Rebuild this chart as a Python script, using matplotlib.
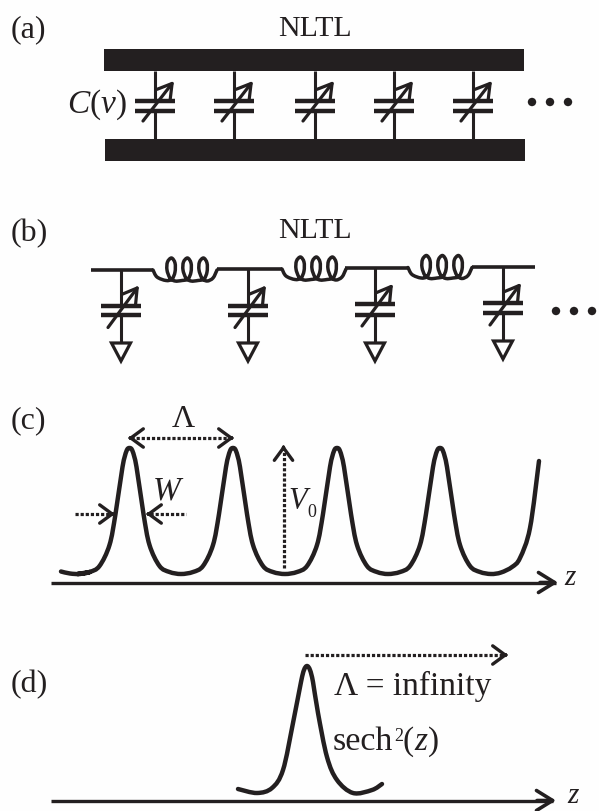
import numpy as np
import matplotlib
matplotlib.use("Agg")
import matplotlib.pyplot as plt
from matplotlib.path import Path
from matplotlib.patches import PathPatch, Rectangle, Polygon, Circle

plt.rcParams['font.family'] = ['Liberation Serif', 'DejaVu Serif']
plt.rcParams['mathtext.fontset'] = 'custom'
plt.rcParams['mathtext.rm'] = 'Liberation Serif'
plt.rcParams['mathtext.it'] = 'Liberation Serif:italic'
plt.rcParams['mathtext.default'] = 'regular'

INK = '#231f20'
TXT = '#231f20'

# Panel (a)
A_CAP_X = [155, 234, 315, 394, 473]
A_PLATES = [100.5, 111]
# Panel (b)
B_CAP_X = [121, 248, 375, 503]
B_PLATE_TOP = [305.5, 305.5, 304, 303]
B_PLATE_BOT = [315, 315, 315, 313]
B_TRI_TOP = [343, 343, 343, 341]
B_WIRE_START = [91, 217, 345, 472]
B_WIRE_END = [153, 282, 408, 535]
B_WIRE_Y = [270, 269, 267.5, 266.5]
# Panel (c) pulse train
PEAK_X = [129.5, 233, 337, 440]
PULSE_DX = [-52, -40, -30, -20, -14, -7, -3, 0, 3, 7, 14, 20, 30, 40]
PULSE_Y = [574, 572, 566, 545, 514, 467, 451, 448, 451, 467, 514, 545, 566, 572]
C_HEAD_X = [61, 70, 80, 90]
C_HEAD_Y = [571.5, 573.5, 574, 572]
C_TAIL_X = [491, 501, 512, 520, 530, 539]
C_TAIL_Y = [574, 572.5, 567, 558, 528, 461]
# Panel (d) single pulse
D_X = [238, 257, 272, 283, 293, 301, 304, 307, 310, 313, 318, 327, 337, 353, 372, 382]
D_Y = [789, 793, 788, 770, 723, 682, 670, 666, 670, 682, 713, 757, 780, 793, 790, 784]

# One coil turn, relative to the loop centre and the wire
TURN_DX = [-4, 2, 5, 5, 1.5, -2.5, -3, 0, 5]
TURN_DY = [10.5, 9, 2, -7, -12, -8, 0, 8, 11]
COIL_X0 = [153, 282, 408]
COIL_Y0 = [270, 269, 267.5]

fig = plt.figure(figsize=(5.99, 8.11), dpi=100, facecolor='#fefefe')
ax = fig.add_axes([0, 0, 1, 1])
ax.set_xlim(0, 599)
ax.set_ylim(811, 0)
ax.axis('off')


def smooth(xs, ys, **kw):
    p = np.column_stack([xs, ys]).astype(float)
    verts = [p[0]]
    codes = [Path.MOVETO]
    for i in range(len(p) - 1):
        p0 = p[max(i - 1, 0)]
        p1, p2 = p[i], p[i + 1]
        p3 = p[min(i + 2, len(p) - 1)]
        verts += [p1 + (p2 - p0) / 6, p2 - (p3 - p1) / 6, p2]
        codes += [Path.CURVE4] * 3
    ax.add_patch(PathPatch(Path(verts, codes), fill=False, edgecolor=INK,
                           capstyle='round', joinstyle='round', **kw))


def line(x, y, lw=2.2, **kw):
    kw.setdefault('solid_capstyle', 'butt')
    ax.plot(x, y, color=INK, lw=lw, **kw)


def head(x0, y0, x1, y1, lw=2.2, hl=0.55, hw=0.4, ms=20):
    ax.annotate('', xy=(x1, y1), xytext=(x0, y0),
                arrowprops=dict(arrowstyle=f'->,head_length={hl},head_width={hw}',
                                color=INK, lw=lw, shrinkA=0, shrinkB=0,
                                mutation_scale=ms))


def dotted(x0, y0, x1, y1):
    ax.plot([x0, x1], [y0, y1], color=INK, lw=2.3, ls=(0, (1.0, 0.6)),
            dash_capstyle='butt')


def chevron(x0, y0, x1, y1):
    # open head only, sitting on the end of a dotted shaft
    u = np.array([x1 - x0, y1 - y0], float)
    u /= np.hypot(*u)
    head(x1 - u[0] * 3, y1 - u[1] * 3, x1, y1, lw=2.4, hl=0.45, hw=0.33, ms=20)


def varcap(cx, top, bot, y0, y1, tail, tip):
    line([cx, cx], [y0, top], lw=2.2)
    line([cx, cx], [bot, y1], lw=2.2)
    line([cx - 20, cx + 20], [top, top], lw=3.2)
    line([cx - 20, cx + 20], [bot, bot], lw=3.2)
    head(tail[0], tail[1], tip[0], tip[1], lw=2.3, hl=0.5, hw=0.3, ms=20)


def txt(x, y, s, size=23, **kw):
    ax.text(x, y, s, fontsize=size, color=TXT, ha=kw.pop('ha', 'left'),
            va='baseline', **kw)


# ---------- (a)
txt(11, 37, '(a)')
txt(278, 36, 'NLTL', 21.5)
for y0, y1, x0 in [(49, 71, 104), (139, 161, 105)]:
    ax.add_patch(Rectangle((x0, y0), 420, y1 - y0, fc=INK, ec='none'))
for x in A_CAP_X:
    varcap(x, A_PLATES[0], A_PLATES[1], 71, 139, (x - 12, 121), (x + 19, 81))
txt(67, 113, r'$\mathit{C}(\mathit{v})$', 24)
for x in [532, 550, 568]:
    ax.add_patch(Circle((x, 102), 4.2, fc=INK, ec='none'))

# ---------- (b)
txt(11, 241, '(b)')
txt(278, 238, 'NLTL', 21.5)
for s, e, y in zip(B_WIRE_START, B_WIRE_END, B_WIRE_Y):
    line([s, e], [y, y], lw=2.6)
for x0, y0 in zip(COIL_X0, COIL_Y0):
    xs, ys = [x0, x0 + 4], [y0, y0 + 7]
    for n in range(3):
        cx = x0 + 17 + 16 * n
        xs += [cx + d for d in TURN_DX]
        ys += [y0 + d for d in TURN_DY]
    xs += [x0 + 60, x0 + 64]
    ys += [y0 + 8, y0]
    smooth(xs, ys, lw=2.5)
for x, t, b, tri, wy in zip(B_CAP_X, B_PLATE_TOP, B_PLATE_BOT, B_TRI_TOP, B_WIRE_Y):
    varcap(x, t, b, wy, tri, (x - 13, t + 22), (x + 18, t - 20))
    ax.add_patch(Polygon([(x - 9.5, tri), (x + 9.5, tri), (x, tri + 18)],
                         closed=True, fc='white', ec=INK, lw=2.3, joinstyle='miter'))
for x in [556, 574, 592]:
    ax.add_patch(Circle((x, 311), 4.2, fc=INK, ec='none'))

# ---------- (c)
txt(11, 428, '(c)')
xs, ys = list(C_HEAD_X), list(C_HEAD_Y)
for p in PEAK_X:
    xs += [p + d for d in PULSE_DX]
    ys += PULSE_Y
xs += C_TAIL_X
ys += C_TAIL_Y
smooth(xs, ys, lw=3.2)
line([51, 556], [582.5, 582.5], lw=2.4)
head(540, 582.5, 558, 582.5, lw=2.6, hl=0.58, hw=0.36, ms=20)
txt(564, 585, r'$\mathit{z}$', 21)

dotted(131, 438, 231, 438)
chevron(140, 438, 128, 438)
chevron(222, 438, 234, 438)
txt(183, 427, 'Λ', 23, ha='center')
dotted(75, 514, 111, 514)
chevron(104, 514, 115, 514)
dotted(150, 514, 186, 514)
chevron(157, 514, 146, 514)
txt(153, 499, 'W', 24, style='italic')
dotted(283.5, 568, 283.5, 449)
chevron(283.5, 455, 283.5, 445)
txt(288, 509, 'V', 22, style='italic')
txt(307, 517, '0', 13)

# ---------- (d)
txt(11, 692, '(d)')
smooth(D_X, D_Y, lw=3.2)
line([51, 553], [800.5, 800.5], lw=2.4)
head(537, 800.5, 556, 800.5, lw=2.6, hl=0.58, hw=0.36, ms=20)
txt(567, 803, 'z', 21, style='italic')
dotted(305, 655, 505, 655)
chevron(497, 655, 508, 655)
txt(334, 695, 'Λ = infinity', 24)
txt(333, 750, 'sech', 24.5)
txt(394, 741, '2', 13)
txt(403, 750, '(', 24)
txt(414, 750, 'z', 24, style='italic')
txt(428, 750, ')', 24)

fig.savefig('out.png', dpi=100, facecolor=fig.get_facecolor())
